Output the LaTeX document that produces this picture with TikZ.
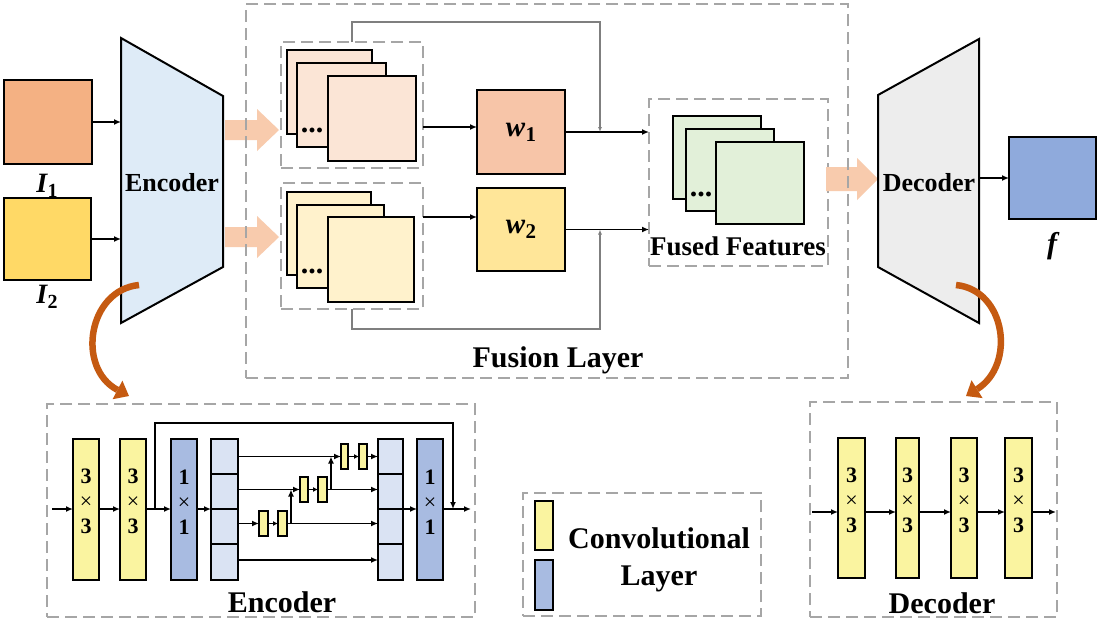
\documentclass[tikz,border=0pt]{standalone}
\usepackage{fontspec}
\setmainfont{Liberation Serif}
\usetikzlibrary{arrows.meta,fit,calc}
\definecolor{cIa}{HTML}{F4B183}
\definecolor{cIb}{HTML}{FFD966}
\definecolor{cWa}{HTML}{F7C5A8}
\definecolor{cWb}{HTML}{FFE699}
\definecolor{cUp}{HTML}{FBE5D6}
\definecolor{cLo}{HTML}{FFF2CC}
\definecolor{cFu}{HTML}{E2F0D9}
\definecolor{cEnc}{HTML}{DEEBF7}
\definecolor{cDec}{HTML}{EDEDED}
\definecolor{cF}{HTML}{8FAADC}
\definecolor{cArrow}{HTML}{F8CBAD}
\definecolor{cCurve}{HTML}{C55A11}
\definecolor{cY}{HTML}{FAF4A0}
\definecolor{cB}{HTML}{A8BBE1}
\definecolor{cS}{HTML}{DAE3F3}
\definecolor{dgray}{HTML}{A6A6A6}
\definecolor{fbgray}{HTML}{7F7F7F}
\newcommand\fatarrow[5]{% x-start, x-headstart, x-tip, y-centre, shaft half height
  \fill[cArrow] (#1,#4-#5) -- (#2,#4-#5) -- (#2,#4-21) -- (#3,#4) -- (#2,#4+21) -- (#2,#4+#5) -- (#1,#4+#5) -- cycle;}
\newcommand\wlab[1]{{\fontsize{29}{29}\selectfont\bfseries\itshape w}\kern0.5pt\raisebox{-5pt}{\fontsize{21}{21}\selectfont\bfseries #1}}
\newcommand\Ilab[1]{{\fontsize{28}{28}\selectfont\bfseries\itshape I}\kern0.5pt\raisebox{-5pt}{\fontsize{20}{20}\selectfont\bfseries #1}}
\begin{document}
\begin{tikzpicture}[x=1pt,y=-1pt,
  box/.style={draw=black,line width=2pt,inner sep=0pt,outer sep=0pt},
  sblk/.style={draw=black,line width=1.5pt,inner sep=0pt,outer sep=0pt,fill=cY},
  dbox/.style={draw=dgray,line width=1.6pt,dash pattern=on 12pt off 6pt,inner sep=0pt,outer sep=0pt},
  arr/.style={line width=1.6pt,-{Latex[length=7pt,width=6pt]}},
  sarr/.style={line width=1.4pt,-{Latex[length=5pt,width=5pt]}},
  fbarr/.style={draw=fbgray,line width=1.1pt,-{Latex[length=5pt,width=4pt]}},
  curv/.style={draw=cCurve,line width=6.5pt,-{Triangle[length=13pt,width=21pt,line width=0pt]}},
  lbl/.style={inner sep=0pt,font=\fontsize{#1}{#1}\selectfont\bfseries},
  blk/.style={box,align=center,font=\fontsize{22}{25}\selectfont\bfseries},
]
\fill[white] (0,0) rectangle (1100,625);
\useasboundingbox (0,0) rectangle (1100,625);

% ---------- inputs ----------
\node[box,fill=cIa,fit={(4,80)(92,164)}] (I1) {};
\node[box,fill=cIb,fit={(4,198)(91,280)}] (I2) {};
\node[inner sep=0pt] (I1lab) at (47,186) {\Ilab{1}};
\node[inner sep=0pt] (I2lab) at (47,297) {\Ilab{2}};

% ---------- encoder ----------
\coordinate (e1) at (121,38);
\coordinate (e2) at (223,96);
\coordinate (e3) at (223,267);
\coordinate (e4) at (121,323);
\filldraw[fill=cEnc,line width=2pt,line join=miter] (e1) -- (e2) -- (e3) -- (e4) -- cycle;
\node[lbl=26] (enctxt) at (172,183) {Encoder};
\draw[arr] (I1.east) -- (I1.east -| e1);
\draw[arr] (I2.east) -- (I2.east -| e1);

% fat arrows encoder -> features
\fatarrow{225}{257}{279}{130}{10}
\fatarrow{225}{257}{279}{237}{10}

% ---------- feature stacks ----------
\node[dbox,fit={(281,42)(423,168)}] (UB) {};
\node[box,fill=cUp,fit={(287,50)(372,134)}] (u1) {};
\node[box,fill=cUp,fit={(297,63)(386,147)}] (u2) {};
\node[box,fill=cUp,fit={(328,76)(416,161)}] (u3) {};
\node[lbl=30] (udots) at (312,130) {...};

\node[dbox,fit={(281,183)(423,309)}] (LB) {};
\node[box,fill=cLo,fit={(287,192)(371,275)}] (l1) {};
\node[box,fill=cLo,fit={(297,205)(384,288)}] (l2) {};
\node[box,fill=cLo,fit={(328,217)(414,302)}] (l3) {};
\node[lbl=30] (ldots) at (312,271) {...};

% ---------- weights ----------
\node[box,fill=cWa,fit={(477,90)(565,174)}] (W1) {};
\node[inner sep=0pt] at (W1) {\wlab{1}};
\node[box,fill=cWb,fit={(477,188)(565,271)}] (W2) {};
\node[inner sep=0pt] at (W2) {\wlab{2}};

\coordinate (a1) at (423,127);
\coordinate (a2) at (423,217);
\draw[arr] (a1) -- (a1 -| W1.west);
\draw[arr] (a2) -- (a2 -| W2.west);

% ---------- fused features ----------
\node[dbox,fit={(649,99)(828,266)}] (FF) {};
\node[box,fill=cFu,fit={(673,116)(761,199)}] (f1) {};
\node[box,fill=cFu,fit={(686,129)(774,211)}] (f2) {};
\node[box,fill=cFu,fit={(716,142)(804,224)}] (f3) {};
\node[lbl=30] (fdots) at (701,194) {...};
\node[lbl=27] (fftxt) at (738,246) {Fused Features};

\draw[arr] (W1.east) -- (W1.east -| FF.west);
\draw[arr] (W2.east) -- (W2.east -| FF.west);

% feedback lines
\coordinate (t1) at (600,22);
\coordinate (t2) at (600,329);
\draw[fbarr] (UB.north) |- (t1) -- (t1 |- W1.east);
\draw[fbarr] (LB.south) |- (t2) -- (t2 |- W2.east);

% fat arrow fused -> decoder
\fatarrow{826}{857}{878}{179}{12}

% ---------- fusion layer frame ----------
\node[dbox,fit={(246,4)(848,378)}] (FL) {};
\node[lbl=30] (fltxt) at (558,360) {Fusion Layer};

% ---------- decoder ----------
\coordinate (d1) at (878,95);
\coordinate (d2) at (979,39);
\coordinate (d3) at (979,323);
\coordinate (d4) at (878,267);
\filldraw[fill=cDec,line width=2pt,line join=miter] (d1) -- (d2) -- (d3) -- (d4) -- cycle;
\node[lbl=26] (dectxt) at (929,183) {Decoder};
\node[box,fill=cF,fit={(1009,137)(1096,219)}] (F) {};
\coordinate (dR) at (979,178);
\draw[arr] (dR) -- (dR -| F.west);
\node[inner sep=0pt] (flab) at (1052,246) {\fontsize{30}{30}\selectfont\bfseries\itshape f};

% ---------- curved pointers ----------
\coordinate (c1s) at (139,285);
\coordinate (c1e) at (129,396);
\draw[curv] (c1s) .. controls (88,290) and (76,368) .. (c1e);
\coordinate (c2s) at (956,285);
\coordinate (c2e) at (966,396);
\draw[curv] (c2s) .. controls (1006,290) and (1016,365) .. (c2e);

% ---------- encoder detail ----------
\node[dbox,fit={(47,404)(475,617)}] (EB) {};
\node[blk,fill=cY,fit={(73,438.5)(99,579.5)}] (Y1) {3\\{\mdseries ×}\\3};
\node[blk,fill=cY,fit={(120,438.5)(146,579.5)}] (Y2) {3\\{\mdseries ×}\\3};
\node[blk,fill=cB,fit={(171,438.5)(197,579.5)}] (B1) {1\\{\mdseries ×}\\1};
\node[box,fill=cS,fit={(211,438.5)(238,579.5)}] (S1) {};
\node[box,fill=cS,fit={(378,438.5)(403,579.5)}] (S2) {};
\node[blk,fill=cB,fit={(417,438.5)(443,579.5)}] (B2) {1\\{\mdseries ×}\\1};
\foreach \n in {S1,S2}
  \foreach \f in {0.25,0.5,0.75}
    \draw[line width=2pt] ($(\n.north west)!\f!(\n.south west)$) -- ($(\n.north east)!\f!(\n.south east)$);

\coordinate (ein) at (52,509);
\coordinate (eout) at (471,509);
\draw[arr] (ein) -- (Y1.west);
\draw[arr] (Y1.east) -- (Y2.west);
\draw[arr] (Y2.east) -- (B1.west);
\draw[arr] (B1.east) -- (S1.west);
\draw[arr] (S2.east) -- (B2.west);
\draw[arr] (B2.east) -- (eout);
\coordinate (sk) at (155,509);
\coordinate (skt) at (453,423);
\draw[arr] (sk) |- (skt) -- (skt |- B2.east);

\node[sblk,fit={(259,511)(268,536)}] (ya) {};
\node[sblk,fit={(278,511)(287,536)}] (yb) {};
\node[sblk,fit={(300,477)(308,502)}] (yc) {};
\node[sblk,fit={(318,477)(327,502)}] (yd) {};
\node[sblk,fit={(341,444)(348,469)}] (ye) {};
\node[sblk,fit={(359,444)(367,469)}] (yf) {};
\coordinate (r4) at (300,560);
\coordinate (v3) at (291,0);
\coordinate (v2) at (331,0);
\draw[arr] (S1.east |- r4) -- (S2.west |- r4);
\draw[arr] (S1.east |- ya) -- (ya.west);
\draw[sarr] (ya.east) -- (yb.west);
\draw[arr] (yb.east) -- (S2.west |- yb);
\draw[arr] (v3 |- yb) -- (v3 |- yc);
\draw[arr] (S1.east |- yc) -- (yc.west);
\draw[sarr] (yc.east) -- (yd.west);
\draw[arr] (yd.east) -- (S2.west |- yd);
\draw[arr] (v2 |- yd) -- (v2 |- ye);
\draw[arr] (S1.east |- ye) -- (ye.west);
\draw[sarr] (ye.east) -- (yf.west);
\draw[arr] (yf.east) -- (S2.west |- yf);
\node[lbl=30] (enclab) at (282,602) {Encoder};

% ---------- legend ----------
\node[dbox,fit={(523,493)(761,616)}] (LG) {};
\node[box,fill=cY,fit={(535,501)(553,550)}] (lgY) {};
\node[box,fill=cB,fit={(535,560)(553,610)}] (lgB) {};
\node[inner sep=0pt,align=center,font=\fontsize{30}{37}\selectfont\bfseries] (lgtxt) at (659,560) {Convolutional\\Layer};

% ---------- decoder detail ----------
\node[dbox,fit={(810,402)(1057,617)}] (DB) {};
\node[blk,fill=cY,fit={(838,438)(865,578)}] (D1) {3\\{\mdseries ×}\\3};
\node[blk,fill=cY,fit={(896,438)(919,578)}] (D2) {3\\{\mdseries ×}\\3};
\node[blk,fill=cY,fit={(951,438)(977,578)}] (D3) {3\\{\mdseries ×}\\3};
\node[blk,fill=cY,fit={(1005,438)(1032,578)}] (D4) {3\\{\mdseries ×}\\3};
\coordinate (dm) at (812,512);
\coordinate (dout) at (1056,512);
\draw[arr] (dm) -- (dm -| D1.west);
\draw[arr] (D1.east |- dm) -- (D2.west |- dm);
\draw[arr] (D2.east |- dm) -- (D3.west |- dm);
\draw[arr] (D3.east |- dm) -- (D4.west |- dm);
\draw[arr] (D4.east |- dm) -- (dout);
\node[lbl=30] (declab) at (942,603) {Decoder};
\end{tikzpicture}
\end{document}
